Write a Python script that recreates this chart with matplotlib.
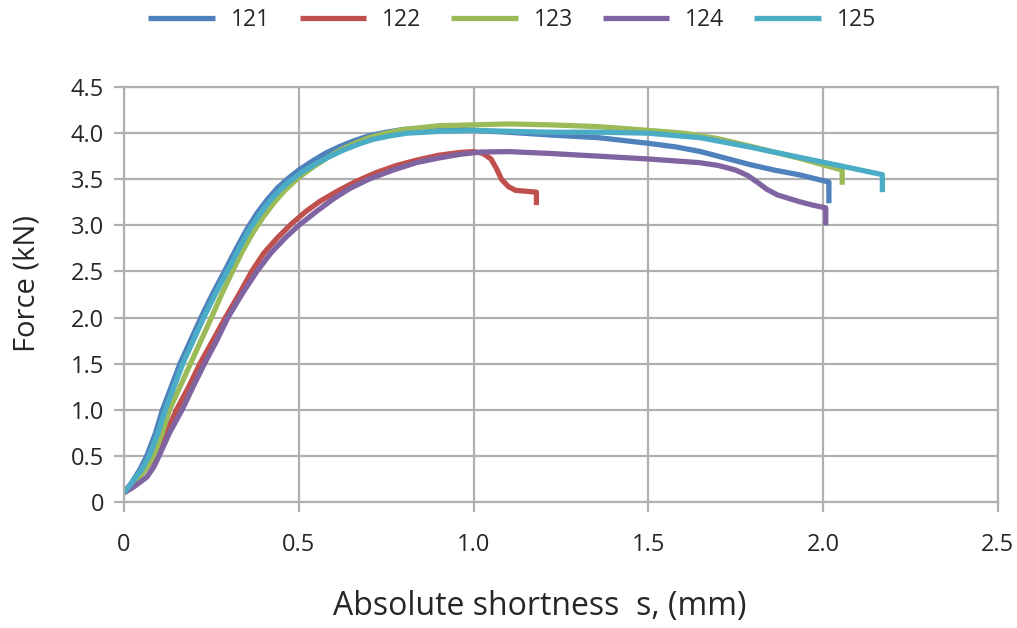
import matplotlib
matplotlib.use("Agg")
import matplotlib.pyplot as plt

plt.rcParams['font.family'] = ['Open Sans', 'DejaVu Sans']

# specimen curves: absolute shortness s (mm) vs force (kN)
x121 = [0, 0.02, 0.045, 0.065, 0.09, 0.11, 0.135, 0.16, 0.19, 0.22, 0.255, 0.29, 0.32, 0.35,
        0.38, 0.41, 0.44, 0.47, 0.5, 0.54, 0.58, 0.62, 0.66, 0.7, 0.75, 0.8, 0.85, 0.9, 0.95,
        1.0, 1.1, 1.22, 1.36, 1.5, 1.58, 1.65, 1.72, 1.79, 1.86, 1.93, 2.017, 2.017]
y121 = [0.1, 0.2, 0.35, 0.5, 0.75, 1.0, 1.25, 1.5, 1.75, 2.0, 2.27, 2.52, 2.74, 2.95,
        3.13, 3.28, 3.41, 3.51, 3.6, 3.7, 3.79, 3.86, 3.92, 3.97, 4.01, 4.04, 4.05, 4.06, 4.05,
        4.03, 4.01, 3.98, 3.95, 3.89, 3.85, 3.8, 3.73, 3.66, 3.6, 3.55, 3.47, 3.24]

x122 = [0, 0.03, 0.06, 0.09, 0.12, 0.15, 0.185, 0.217, 0.255, 0.29, 0.33, 0.365, 0.40, 0.44,
        0.48, 0.52, 0.56, 0.61, 0.66, 0.72, 0.78, 0.84, 0.9, 0.96, 1.0, 1.027, 1.05, 1.065,
        1.08, 1.1, 1.12, 1.15, 1.18, 1.18]
y122 = [0.12, 0.22, 0.35, 0.5, 0.75, 1.0, 1.25, 1.5, 1.76, 2.0, 2.26, 2.5, 2.7, 2.87,
        3.02, 3.15, 3.26, 3.37, 3.47, 3.57, 3.65, 3.71, 3.76, 3.79, 3.8, 3.78, 3.72, 3.62,
        3.5, 3.42, 3.38, 3.37, 3.36, 3.22]

x123 = [0, 0.03, 0.06, 0.085, 0.11, 0.13, 0.16, 0.19, 0.22, 0.25, 0.28, 0.31, 0.34, 0.37,
        0.4, 0.43, 0.46, 0.5, 0.54, 0.58, 0.62, 0.66, 0.7, 0.75, 0.8, 0.85, 0.9, 1.0, 1.1,
        1.22, 1.36, 1.5, 1.6, 1.7, 1.79, 1.93, 2.055, 2.055]
y123 = [0.1, 0.2, 0.35, 0.5, 0.76, 1.0, 1.25, 1.5, 1.75, 2.0, 2.26, 2.5, 2.73, 2.93,
        3.1, 3.25, 3.38, 3.52, 3.63, 3.73, 3.82, 3.89, 3.95, 4.0, 4.04, 4.06, 4.08, 4.09, 4.1,
        4.09, 4.07, 4.03, 4.0, 3.94, 3.86, 3.73, 3.6, 3.44]

x124 = [0, 0.03, 0.065, 0.085, 0.1, 0.13, 0.166, 0.2, 0.23, 0.265, 0.297, 0.34, 0.38, 0.42,
        0.46, 0.5, 0.55, 0.6, 0.646, 0.7, 0.77, 0.836, 0.9, 0.96, 1.02, 1.1, 1.217, 1.36,
        1.5, 1.646, 1.7, 1.75, 1.785, 1.815, 1.84, 1.87, 1.93, 1.97, 2.008, 2.008]
y124 = [0.1, 0.17, 0.27, 0.38, 0.5, 0.75, 1.0, 1.27, 1.5, 1.75, 2.0, 2.27, 2.5, 2.7,
        2.86, 3.0, 3.15, 3.29, 3.4, 3.5, 3.6, 3.68, 3.73, 3.77, 3.795, 3.8, 3.78, 3.75,
        3.72, 3.68, 3.65, 3.6, 3.54, 3.46, 3.39, 3.33, 3.26, 3.22, 3.19, 3.0]

x125 = [0, 0.02, 0.05, 0.072, 0.097, 0.118, 0.143, 0.168, 0.198, 0.228, 0.263, 0.298, 0.328,
        0.358, 0.388, 0.418, 0.448, 0.478, 0.51, 0.55, 0.59, 0.63, 0.67, 0.71, 0.76, 0.81,
        0.86, 0.9, 1.0, 1.1, 1.22, 1.36, 1.5, 1.65, 1.79, 1.93, 2.07, 2.17, 2.17]
y125 = [0.1, 0.2, 0.35, 0.5, 0.75, 1.0, 1.25, 1.5, 1.75, 2.0, 2.27, 2.52, 2.74, 2.95,
        3.12, 3.27, 3.39, 3.49, 3.58, 3.67, 3.75, 3.82, 3.88, 3.93, 3.97, 4.0, 4.01, 4.02,
        4.03, 4.02, 4.01, 4.01, 4.0, 3.95, 3.85, 3.74, 3.63, 3.55, 3.36]

xticks = [0, 0.5, 1.0, 1.5, 2.0, 2.5]
xlabels = ["0", "0.5", "1.0", "1.5", "2.0", "2.5"]
yticks = [0, 0.5, 1.0, 1.5, 2.0, 2.5, 3.0, 3.5, 4.0, 4.5]
ylabels = ["0", "0.5", "1.0", "1.5", "2.0", "2.5", "3.0", "3.5", "4.0", "4.5"]

grid_c = "#b0b0b0"
txt_c = "#262626"

fig = plt.figure(figsize=(10.17, 6.28), dpi=100)
ax = fig.add_axes([0.122, 0.2006, 0.859, 0.6608])

ax.plot(x121, y121, color="#4F81BD", lw=3.8, label="121", solid_capstyle="butt")
ax.plot(x122, y122, color="#C0504D", lw=3.8, label="122", solid_capstyle="butt")
ax.plot(x123, y123, color="#9BBB59", lw=3.8, label="123", solid_capstyle="butt")
ax.plot(x124, y124, color="#8064A2", lw=3.8, label="124", solid_capstyle="butt")
ax.plot(x125, y125, color="#4BACC6", lw=3.8, label="125", solid_capstyle="butt")

ax.set_xlim(0, 2.5)
ax.set_ylim(0, 4.5)
ax.set_xticks(xticks)
ax.set_xticklabels(xlabels)
ax.set_yticks(yticks)
ax.set_yticklabels(ylabels)
ax.grid(True, color=grid_c, lw=1.6)
ax.set_axisbelow(True)
for s in ax.spines.values():
    s.set_color(grid_c)
    s.set_linewidth(1.6)
ax.tick_params(axis="both", direction="out", length=7.5, width=1.6, color=grid_c,
               labelsize=17, labelcolor=txt_c)
ax.tick_params(axis="x", pad=15)
ax.tick_params(axis="y", pad=7)

fig.text(540 / 1017, 1 - 606 / 628, "Absolute shortness  s, (mm)", fontsize=23,
         color=txt_c, ha="center", va="center")
fig.text(27 / 1017, 1 - 283 / 628, "Force (kN)", fontsize=21, color=txt_c,
         ha="center", va="center", rotation=90)

fig.legend(loc="center", bbox_to_anchor=(512 / 1017, 1 - 20 / 628), ncol=5, frameon=False,
           fontsize=16.5, handlelength=2.9, handletextpad=0.7, columnspacing=1.3,
           labelcolor=txt_c)

plt.savefig("out.png", dpi=100)
